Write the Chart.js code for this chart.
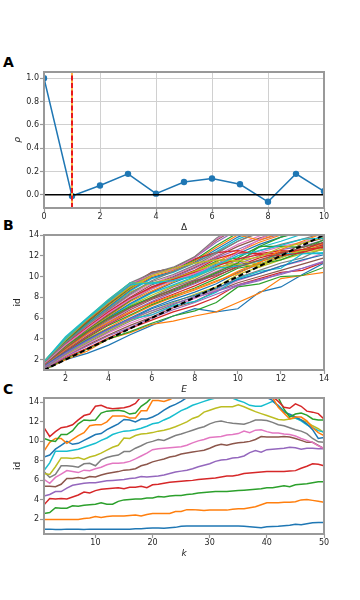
<!DOCTYPE html>
<html>
<head>
<meta charset="utf-8">
<script src="https://cdn.jsdelivr.net/npm/chart.js@4.4.1/dist/chart.umd.min.js"></script>
<style>
  body { margin: 0; width: 360px; height: 600px; background: #fff; position: relative; overflow: hidden; }
  canvas { position: absolute; left: 0; }
  .letter { position: absolute; left: 3px; font: bold 14px "DejaVu Sans"; line-height: 14px; color: #000; }
</style>
</head>
<body>
<div class="letter" style="top:55px">A</div>
<div class="letter" style="top:218px">B</div>
<div class="letter" style="top:382px">C</div>
<canvas id="chartA" width="360" height="186" style="top:50px"></canvas>
<canvas id="chartB" width="360" height="173" style="top:225px"></canvas>
<canvas id="chartC" width="360" height="174" style="top:388px"></canvas>
<script>
const FONT = '"DejaVu Sans", sans-serif';
const FRAME = '#999999';
const TAB10 = ['#1f77b4', '#ff7f0e', '#2ca02c', '#d62728', '#9467bd', '#8c564b', '#e377c2', '#7f7f7f', '#bcbd22', '#17becf'];

// A: autocorrelation vs lag
const lags = [0, 1, 2, 3, 4, 5, 6, 7, 8, 9, 10];
const rho = [1.0, -0.01, 0.08, 0.18, 0.01, 0.11, 0.14, 0.09, -0.06, 0.18, 0.03];
const chosenLag = 1;
const lagTicks = [0, 2, 4, 6, 8, 10];
const rhoTicks = [0, 0.2, 0.4, 0.6, 0.8, 1.0];
const rhoMin = -0.113, rhoMax = 1.053;

// B: id vs embedding dimension E, one curve per run
const embedDims = [1, 2, 3, 4, 5, 6, 7, 8, 9, 10, 11, 12, 13, 14];
const dimTicks = [2, 4, 6, 8, 10, 12, 14];
const idCurves = [
  [1.0, 2.0, 2.6, 3.4, 4.4, 5.3, 6.2, 6.9, 6.6, 6.9, 8.5, 9.0, 10.2, 11.3],
  [1.0, 2.0, 2.8, 4.0, 4.6, 5.4, 5.7, 6.2, 6.6, 7.5, 8.4, 9.8, 10.1, 10.4],
  [1.0, 2.1, 3.0, 4.0, 4.7, 5.5, 6.2, 6.7, 7.5, 9.0, 9.3, 10.0, 10.1, 10.9],
  [1.1, 2.2, 3.1, 4.1, 5.0, 5.8, 6.6, 7.2, 8.0, 9.2, 9.8, 10.4, 10.6, 11.4],
  [1.1, 2.3, 3.3, 4.3, 5.1, 6.0, 6.8, 7.5, 8.3, 9.1, 9.6, 10.3, 10.8, 11.5],
  [1.2, 2.4, 3.4, 4.4, 5.3, 6.1, 7.0, 7.6, 8.6, 9.4, 10.0, 10.6, 11.2, 11.8],
  [1.2, 2.4, 3.5, 4.6, 5.5, 6.3, 7.1, 7.9, 8.7, 9.6, 10.3, 11.0, 11.5, 12.3],
  [1.2, 2.5, 3.6, 4.7, 5.7, 6.5, 7.3, 8.1, 8.8, 9.9, 10.6, 11.3, 11.8, 12.8],
  [1.3, 2.5, 3.7, 4.8, 5.8, 6.7, 7.5, 8.3, 9.0, 10.2, 10.9, 11.6, 12.2, 12.6],
  [1.3, 2.6, 3.8, 4.9, 5.9, 6.3, 7.2, 7.6, 8.5, 9.8, 10.5, 10.8, 12.2, 12.3],
  [1.3, 2.6, 3.9, 5.0, 6.0, 7.0, 7.8, 8.5, 9.3, 10.4, 11.2, 11.9, 12.4, 13.0],
  [1.3, 2.7, 4.0, 5.1, 6.2, 7.2, 8.0, 8.7, 9.5, 10.5, 11.4, 12.0, 12.6, 13.2],
  [1.4, 2.8, 4.1, 5.3, 6.3, 7.3, 8.1, 8.9, 9.8, 10.8, 11.2, 11.6, 12.4, 13.6],
  [1.4, 2.8, 4.2, 5.4, 6.5, 7.5, 8.3, 9.1, 10.0, 11.0, 11.8, 12.3, 12.6, 13.3],
  [1.4, 2.9, 4.3, 5.5, 6.6, 7.6, 8.5, 9.3, 10.2, 11.2, 12.0, 12.6, 12.9, 13.5],
  [1.4, 2.9, 4.3, 5.6, 6.8, 7.8, 8.6, 9.4, 10.3, 11.1, 11.5, 12.0, 13.2, 13.7],
  [1.5, 3.0, 4.4, 5.7, 6.9, 7.9, 8.8, 9.6, 10.5, 11.4, 12.3, 12.9, 13.3, 13.9],
  [1.5, 3.0, 4.5, 5.8, 7.0, 8.0, 9.0, 9.7, 10.7, 11.6, 12.5, 13.1, 13.6, 14.2],
  [1.5, 3.1, 4.6, 5.9, 7.2, 8.2, 9.1, 9.9, 10.9, 11.2, 11.0, 12.4, 12.5, 12.8],
  [1.5, 3.1, 4.7, 6.0, 7.3, 8.4, 9.2, 10.0, 11.0, 12.0, 12.8, 13.4, 14.1, 14.6],
  [1.5, 3.2, 4.7, 6.1, 7.4, 8.5, 9.4, 10.2, 11.2, 12.2, 13.1, 13.8, 14.4, 15.0],
  [1.6, 3.2, 4.8, 6.2, 7.6, 8.6, 9.5, 10.3, 11.4, 12.4, 13.3, 14.0, 14.6, 15.2],
  [1.6, 3.3, 4.9, 6.3, 7.7, 8.8, 9.7, 10.5, 11.5, 11.8, 12.9, 12.9, 12.8, 13.5],
  [1.6, 3.3, 5.0, 6.4, 7.8, 8.9, 9.8, 10.6, 11.7, 12.3, 12.2, 12.5, 12.4, 13.1],
  [1.6, 3.4, 5.0, 6.5, 7.9, 9.0, 9.9, 10.8, 11.8, 12.6, 13.5, 14.1, 14.8, 15.3],
  [1.6, 3.4, 5.1, 6.6, 8.0, 9.2, 10.0, 10.9, 11.9, 12.9, 13.7, 14.3, 14.9, 15.5],
  [1.7, 3.5, 5.2, 6.7, 8.2, 9.3, 10.1, 11.0, 12.0, 13.1, 13.9, 14.5, 15.0, 15.6],
  [1.7, 3.5, 5.3, 6.8, 8.3, 9.5, 10.2, 11.1, 12.2, 13.4, 14.2, 14.8, 15.3, 15.8],
  [1.7, 3.6, 5.4, 7.0, 8.5, 9.4, 9.5, 10.5, 11.3, 11.5, 11.2, 11.8, 12.6, 12.9],
  [1.7, 3.6, 5.4, 7.0, 8.6, 9.8, 10.4, 11.3, 12.4, 13.6, 14.4, 15.0, 15.5, 16.0],
  [1.7, 3.7, 5.5, 7.1, 8.7, 9.9, 10.5, 11.4, 12.6, 13.8, 14.6, 15.2, 15.7, 16.2],
  [1.8, 3.8, 5.6, 7.2, 8.8, 10.0, 10.6, 11.5, 12.8, 14.0, 13.5, 14.2, 14.8, 15.3],
  [1.8, 3.8, 5.6, 7.3, 8.9, 10.2, 10.7, 11.6, 13.0, 14.2, 15.0, 15.5, 16.0, 16.5],
  [1.8, 3.9, 5.7, 7.4, 9.0, 10.4, 10.8, 11.7, 12.3, 12.5, 12.1, 12.3, 12.6, 12.8],
  [1.8, 3.9, 5.8, 7.5, 9.1, 10.3, 10.7, 11.8, 13.3, 14.5, 15.2, 15.8, 16.2, 16.8],
  [1.8, 4.0, 5.8, 7.6, 9.2, 10.4, 10.8, 11.9, 13.5, 14.7, 15.4, 16.0, 16.5, 17.0],
  [1.8, 4.0, 5.9, 7.7, 9.3, 10.2, 10.7, 11.8, 13.6, 14.8, 15.5, 16.2, 16.8, 17.2],
  [1.8, 4.1, 5.9, 7.7, 9.4, 10.3, 10.9, 11.9, 13.7, 15.0, 15.7, 16.4, 17.0, 17.5],
  [1.8, 4.1, 6.0, 7.8, 9.4, 9.4, 9.8, 10.5, 11.3, 11.2, 10.9, 12.0, 12.5, 12.6],
  [1.8, 4.2, 6.0, 7.8, 9.4, 9.3, 9.6, 10.0, 10.8, 11.0, 11.5, 12.2, 12.2, 12.2],
  [1.4, 2.7, 3.9, 5.0, 5.9, 6.9, 7.6, 8.2, 8.9, 9.7, 10.3, 11.0, 11.6, 12.1],
  [1.5, 3.0, 4.5, 5.6, 6.6, 7.4, 8.2, 8.8, 9.6, 10.3, 11.3, 12.6, 13.4, 14.2],
  [1.6, 3.3, 4.7, 6.0, 7.1, 8.0, 8.7, 9.5, 10.4, 11.3, 12.9, 13.8, 14.3, 15.0],
  [1.7, 3.5, 5.1, 6.6, 7.9, 9.0, 9.7, 10.4, 11.0, 11.7, 12.1, 12.0, 12.3, 12.9],
  [1.3, 2.6, 3.8, 4.9, 5.9, 6.7, 7.4, 8.0, 8.6, 9.2, 9.7, 10.2, 10.8, 11.4],
  [1.5, 3.1, 4.6, 5.9, 7.0, 7.9, 8.8, 9.6, 10.1, 10.9, 11.6, 12.2, 12.8, 13.3],
  [1.6, 3.4, 5.0, 6.5, 7.8, 8.8, 9.6, 10.3, 11.1, 12.3, 13.6, 14.6, 15.3, 15.8],
  [1.7, 3.6, 5.3, 6.9, 8.4, 9.6, 10.5, 11.3, 12.3, 13.4, 14.3, 15.0, 15.5, 16.0],
  [1.8, 3.9, 5.8, 7.5, 9.0, 10.1, 10.8, 11.3, 11.6, 11.5, 11.9, 12.8, 13.2, 13.8],
  [1.8, 4.0, 5.9, 7.6, 9.2, 9.4, 9.6, 10.1, 11.1, 12.0, 12.5, 13.0, 13.6, 13.7],
];

// C: id vs neighbourhood size k, one curve per E = 1..14
const kValues = [];
for (let k = 1; k <= 50; k++) kValues.push(k);
const kTicks = [10, 20, 30, 40, 50];
const idTicks = [2, 4, 6, 8, 10, 12, 14];
const idByDim = [
  [1.0, 1.0, 0.97, 0.97, 1.0, 1.0, 0.98, 0.97, 1.0, 1.0, 1.0, 1.0, 1.0, 1.0, 1.0, 1.0, 1.03, 1.05, 1.1, 1.12, 1.12, 1.1, 1.15, 1.18, 1.3, 1.33, 1.33, 1.33, 1.33, 1.33, 1.33, 1.33, 1.33, 1.33, 1.33, 1.3, 1.25, 1.2, 1.15, 1.25, 1.28, 1.3, 1.35, 1.4, 1.5, 1.45, 1.55, 1.65, 1.68, 1.68],
  [2.0, 2.0, 2.0, 2.0, 2.0, 2.0, 2.0, 2.1, 2.15, 2.3, 2.2, 2.3, 2.35, 2.35, 2.35, 2.4, 2.45, 2.35, 2.5, 2.6, 2.6, 2.6, 2.6, 2.8, 2.8, 3.0, 3.0, 2.95, 2.9, 2.95, 2.95, 2.95, 2.95, 3.05, 3.1, 3.1, 3.2, 3.3, 3.5, 3.7, 3.7, 3.7, 3.75, 3.75, 3.8, 4.0, 4.05, 3.95, 3.85, 3.75],
  [2.6, 2.7, 3.2, 3.15, 3.15, 3.4, 3.35, 3.45, 3.5, 3.55, 3.7, 3.55, 3.55, 3.85, 4.0, 4.05, 4.1, 4.1, 4.2, 4.2, 4.35, 4.3, 4.4, 4.45, 4.45, 4.55, 4.6, 4.7, 4.75, 4.8, 4.85, 4.85, 4.85, 4.9, 4.95, 5.0, 5.05, 5.1, 5.15, 5.25, 5.25, 5.35, 5.45, 5.35, 5.55, 5.6, 5.65, 5.75, 5.85, 5.85],
  [3.5, 4.15, 4.1, 4.15, 4.1, 4.3, 4.5, 4.8, 4.7, 4.95, 5.1, 5.15, 5.2, 5.25, 5.15, 5.3, 5.3, 5.4, 5.25, 5.55, 5.6, 5.7, 5.8, 5.85, 5.9, 5.95, 6.0, 6.1, 6.15, 6.2, 6.25, 6.35, 6.45, 6.45, 6.55, 6.7, 6.75, 6.8, 6.85, 6.9, 6.9, 6.9, 6.9, 6.95, 7.0, 7.25, 7.45, 7.7, 7.65, 7.5],
  [4.4, 4.55, 4.85, 4.85, 5.2, 5.5, 5.6, 5.7, 5.75, 5.75, 5.85, 5.95, 6.0, 6.05, 6.1, 6.2, 6.25, 6.4, 6.35, 6.4, 6.45, 6.55, 6.7, 6.85, 6.95, 7.05, 7.2, 7.4, 7.55, 7.7, 7.95, 8.1, 8.15, 8.3, 8.35, 8.5, 8.85, 9.05, 8.9, 9.15, 9.2, 9.25, 9.3, 9.4, 9.35, 9.2, 9.3, 9.3, 9.25, 9.25],
  [5.4, 5.4, 5.35, 5.6, 6.2, 6.2, 6.3, 6.2, 6.4, 6.35, 6.55, 6.7, 6.8, 6.9, 7.05, 7.1, 7.2, 7.5, 7.65, 7.9, 8.05, 8.2, 8.4, 8.5, 8.7, 8.8, 8.9, 9.0, 9.1, 9.3, 9.55, 9.7, 9.6, 9.75, 9.85, 9.9, 10.0, 10.2, 10.5, 10.45, 10.45, 10.45, 10.5, 10.45, 10.3, 10.1, 9.9, 9.9, 9.6, 9.25],
  [6.1, 5.7, 6.3, 6.65, 7.0, 6.9, 6.8, 7.05, 7.0, 7.2, 7.35, 7.6, 7.75, 7.75, 7.8, 7.95, 8.2, 8.5, 8.8, 9.15, 9.25, 9.3, 9.35, 9.4, 9.45, 9.6, 9.85, 10.05, 10.2, 10.4, 10.45, 10.5, 10.65, 10.7, 10.8, 11.05, 10.9, 11.15, 11.2, 11.0, 10.85, 10.85, 10.75, 10.7, 10.55, 10.3, 10.1, 9.9, 9.55, 9.25],
  [6.9, 6.3, 6.6, 7.5, 7.5, 7.45, 7.35, 7.7, 7.75, 7.5, 8.1, 8.35, 8.5, 8.6, 8.95, 8.95, 9.3, 9.55, 9.85, 10.0, 10.2, 10.1, 10.35, 10.6, 10.75, 10.95, 11.15, 11.35, 11.5, 11.8, 12.0, 12.1, 11.95, 11.85, 11.8, 11.75, 11.95, 12.2, 12.2, 12.15, 11.95, 11.7, 11.6, 11.4, 11.2, 11.05, 10.8, 10.3, 9.95, 9.9],
  [6.7, 6.6, 7.4, 8.3, 8.3, 8.25, 8.35, 8.15, 8.4, 8.55, 8.8, 9.1, 9.4, 9.6, 10.35, 10.3, 10.6, 10.75, 10.8, 10.9, 11.05, 11.15, 11.3, 11.5, 11.75, 12.0, 12.35, 12.55, 13.0, 13.2, 13.4, 13.55, 13.55, 13.55, 13.75, 13.55, 13.3, 13.05, 12.85, 12.65, 12.45, 12.25, 12.2, 12.3, 12.4, 12.2, 12.0, 11.6, 11.3, 10.9],
  [7.0, 7.8, 9.0, 9.0, 9.0, 9.1, 9.2, 9.4, 9.6, 9.8, 10.1, 10.35, 10.7, 10.9, 11.05, 11.1, 11.2, 11.35, 11.55, 11.8, 11.9, 12.2, 12.45, 12.8, 13.15, 13.4, 13.7, 13.9, 14.1, 14.3, 14.45, 14.5, 14.5, 14.45, 14.2, 14.0, 13.7, 13.6, 13.6, 13.85, 14.1, 13.7, 13.1, 12.7, 12.4, 12.1, 11.7, 11.4, 11.1, 10.95],
  [8.4, 8.6, 9.2, 9.6, 10.0, 9.7, 9.8, 10.1, 10.4, 10.7, 10.8, 11.2, 11.5, 11.8, 12.25, 12.2, 12.0, 12.3, 12.3, 12.5, 12.8, 13.2, 13.55, 13.8, 14.1, 14.5, 14.9, 15.2, 15.4, 15.5, 15.6, 15.6, 15.6, 15.5, 15.4, 15.3, 15.1, 14.9, 14.7, 14.5, 14.2, 13.6, 13.0, 12.8, 12.5, 12.2, 11.8, 11.2, 10.3, 10.4],
  [9.0, 9.9, 10.3, 10.3, 9.8, 10.2, 10.6, 10.9, 11.6, 11.7, 11.7, 12.0, 12.6, 12.6, 12.6, 12.4, 12.4, 13.15, 13.15, 14.2, 14.2, 14.1, 14.3, 14.6, 15.0, 15.3, 15.6, 15.8, 16.0, 16.1, 16.2, 16.2, 16.1, 16.0, 15.9, 15.7, 15.5, 15.3, 15.0, 14.8, 14.5, 13.5, 12.9, 12.3, 12.5, 12.5, 12.1, 11.4, 10.9, 10.6],
  [10.3, 10.1, 10.0, 10.7, 10.7, 11.1, 11.8, 12.2, 12.15, 12.2, 12.9, 13.1, 13.15, 13.2, 13.1, 12.8, 12.9, 13.6, 14.0, 14.6, 15.0, 15.4, 15.7, 16.0, 16.2, 16.4, 16.5, 16.6, 16.6, 16.6, 16.5, 16.4, 16.3, 16.2, 16.0, 15.8, 15.6, 15.4, 15.2, 15.0, 14.8, 14.5, 13.3, 12.5, 12.8, 12.9, 12.7, 12.3, 12.2, 12.2],
  [11.4, 10.5, 11.0, 11.4, 11.5, 11.7, 12.2, 12.65, 12.8, 13.6, 13.7, 13.45, 13.35, 13.4, 13.45, 13.6, 13.9, 14.6, 15.1, 15.5, 15.9, 16.2, 16.5, 16.7, 16.9, 17.0, 17.1, 17.1, 17.1, 17.0, 16.9, 16.8, 16.6, 16.4, 16.2, 16.0, 15.8, 15.5, 15.2, 14.9, 14.6, 14.1, 13.5, 13.4, 13.85, 13.6, 13.1, 13.0, 12.85, 12.3],
];

// spines drawn on top of the data, like matplotlib
const framePlugin = {
  id: 'frame',
  afterDatasetsDraw(chart) {
    const { ctx, chartArea: a } = chart;
    ctx.save();
    ctx.strokeStyle = FRAME;
    ctx.lineWidth = 2;
    ctx.strokeRect(a.left, a.top, a.right - a.left, a.bottom - a.top);
    ctx.restore();
  }
};

function makeAxis(horizontal, min, max, tickValues, title, extra = {}) {
  return {
    type: 'linear',
    min: min,
    max: max,
    afterBuildTicks: (scale) => { scale.ticks = tickValues.map(v => ({ value: v })); },
    afterFit: (scale) => { if (horizontal) scale.height = 28; else scale.width = 44; },
    grid: {
      drawOnChartArea: !!extra.grid,
      color: '#d0d0d0',
      lineWidth: 1,
      drawTicks: true,
      tickLength: 4,
      tickColor: FRAME,
      tickWidth: 1.2,
    },
    border: { display: false },
    ticks: {
      color: '#262626',
      font: { family: FONT, size: 8 },
      padding: horizontal ? 0 : 1,
      autoSkip: false,
      maxRotation: 0,
      callback: extra.format || (v => v),
    },
    title: {
      display: true,
      text: title,
      color: '#262626',
      font: { family: FONT, size: 9, style: extra.italic ? 'italic' : 'normal' },
      padding: horizontal ? { top: 0, bottom: 3 } : { top: 12, bottom: 0 },
    },
  };
}

function baseOptions(padTop, xAxis, yAxis) {
  return {
    responsive: false,
    animation: false,
    devicePixelRatio: 1,
    layout: { padding: { top: padTop, right: 36, left: 0, bottom: 0 } },
    plugins: { legend: { display: false }, tooltip: { enabled: false } },
    scales: { x: xAxis, y: yAxis },
  };
}

function points(xs, ys) {
  return xs.map((x, i) => ({ x: x, y: ys[i] }));
}

// ---- A ----
const dsA = [
  {
    data: points(lags, rho),
    borderColor: TAB10[0], backgroundColor: TAB10[0],
    borderWidth: 1.5, pointRadius: 3.2, pointBorderWidth: 0,
  },
  {
    data: [{ x: lags[0], y: 0 }, { x: lags[lags.length - 1], y: 0 }],
    borderColor: '#000', borderWidth: 1.5, pointRadius: 0,
  },
  {
    data: [{ x: chosenLag, y: rhoMin }, { x: chosenLag, y: rhoMax }],
    borderColor: '#ffb74d', borderWidth: 2, pointRadius: 0,
  },
  {
    data: [{ x: chosenLag, y: rhoMin }, { x: chosenLag, y: rhoMax }],
    borderColor: '#e8191b', borderWidth: 2, borderDash: [5, 2.5], pointRadius: 0,
  },
].reverse();

new Chart(document.getElementById('chartA'), {
  type: 'line',
  data: { datasets: dsA },
  options: baseOptions(22,
    makeAxis(true, 0, 10, lagTicks, 'Δ', { grid: true }),
    makeAxis(false, rhoMin, rhoMax, rhoTicks, 'ρ', { grid: true, italic: true, format: v => v.toFixed(1) })),
  plugins: [framePlugin],
});

// ---- B ----
const dsB = idCurves.map((curve, i) => ({
  data: points(embedDims, curve),
  borderColor: TAB10[i % 10], borderWidth: 1.2, pointRadius: 0,
}));
dsB.push({
  data: points(embedDims, embedDims),
  borderColor: '#000', borderWidth: 2, borderDash: [5, 3], pointRadius: 0,
});

new Chart(document.getElementById('chartB'), {
  type: 'line',
  data: { datasets: dsB.reverse() },
  options: baseOptions(10,
    makeAxis(true, 1, 14, dimTicks, 'E', { italic: true }),
    makeAxis(false, 1, 14, dimTicks, 'id')),
  plugins: [framePlugin],
});

// ---- C ----
const dsC = idByDim.map((curve, i) => ({
  data: points(kValues, curve),
  borderColor: TAB10[i % 10], borderWidth: 1.5, pointRadius: 0,
}));

new Chart(document.getElementById('chartC'), {
  type: 'line',
  data: { datasets: dsC.reverse() },
  options: baseOptions(10,
    makeAxis(true, 1, 50, kTicks, 'k', { italic: true }),
    makeAxis(false, 0.5, 14.45, idTicks, 'id')),
  plugins: [framePlugin],
});
</script>
</body>
</html>
